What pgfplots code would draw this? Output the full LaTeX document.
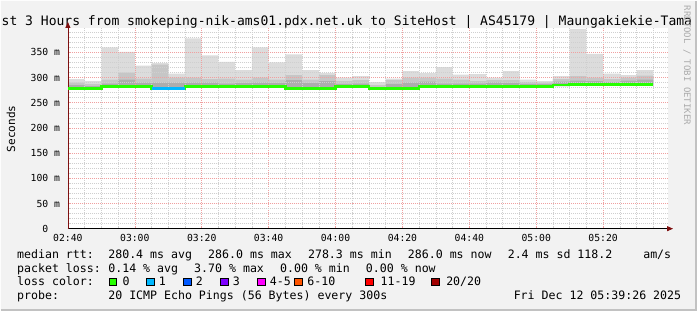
\documentclass[border=0pt]{standalone}
\usepackage{pgfplots}
\pgfplotsset{compat=1.18}
\usepackage{pgfplotstable}
\usepgfplotslibrary{fillbetween}
\usetikzlibrary{arrows.meta}
\usepackage{fontspec}
\setmainfont{DejaVu Sans Mono}
\definecolor{bgc}{HTML}{F2F2F2}
\definecolor{bordc}{HTML}{C2C2C2}
\definecolor{smokeA}{HTML}{DCDCDC}
\definecolor{smokeB}{HTML}{C6C6C6}
\definecolor{smokeC}{HTML}{ADADAD}
\definecolor{lossA}{HTML}{26FF00}
\definecolor{lossB}{HTML}{00B8FF}
\definecolor{lossC}{HTML}{0059FF}
\definecolor{lossD}{HTML}{7E00FF}
\definecolor{lossE}{HTML}{FF00FF}
\definecolor{lossF}{HTML}{FF5500}
\definecolor{lossG}{HTML}{FF0000}
\definecolor{lossH}{HTML}{A10000}
\definecolor{majgrid}{HTML}{F0A0A0}
\definecolor{mingrid}{HTML}{CFCFCF}
\definecolor{axred}{HTML}{7F1010}
\definecolor{wmark}{HTML}{ABABAB}

\pgfplotstableread{
t   med  lo   l3   l2   top
0   278  276  285  290  297
5   278  276  283  287  293
10  282  280  288  296  360
15  282  280  296  310  351
20  282  280  290  298  324
25  278  276  290  326  329
30  278  276  290  300  308
35  282  280  290  300  378
40  282  280  290  297  344
45  282  280  288  298  331
50  282  280  289  296  315
55  282  280  290  300  360
60  282  280  289  296  330
65  278  276  295  305  346
70  278  276  289  296  315
75  278  276  293  305  309
80  282  280  287  293  300
85  282  280  288  295  303
90  278  276  281  285  291
95  278  276  287  295  298
100 278  276  290  300  313
105 282  280  292  300  309
110 282  280  288  298  321
115 282  280  288  296  306
120 282  280  288  293  307
125 282  280  290  295  300
130 282  280  289  295  313
135 282  280  287  291  296
140 282  280  287  290  293
145 285  283  292  297  303
150 286  284  294  303  397
155 286  284  293  300  347
160 286  284  291  297  308
165 286  284  294  300  305
170 286  284  296  304  315
175 286  284  296  304  315
}\smoke

\begin{document}
\begin{tikzpicture}[x=1pt,y=1pt]
\fill[bgc, even odd rule] (0,0) rectangle (697,310) (67,82) rectangle (668,283);
\draw[bordc, line width=2pt] (0,1) -- (696,1) -- (696,310);

\begin{axis}[
  at={(67pt,82pt)}, anchor=south west,
  scale only axis, width=601pt, height=201pt,
  xmin=0, xmax=179.4, ymin=0, ymax=398.6,
  set layers, axis on top,
  axis background/.style={fill=white},
  axis x line=bottom, axis y line=left,
  every outer x axis line/.append style={black, line width=0.8pt, -{Triangle[length=6pt,width=5pt,color=axred]}, shorten >=-5pt},
  every outer y axis line/.append style={axred, line width=0.8pt, -{Triangle[length=6pt,width=5pt,color=axred]}, shorten >=-6pt},
  xtick={0,20,...,160},
  xticklabels={02:40,03:00,03:20,03:40,04:00,04:20,04:40,05:00,05:20},
  minor xtick={5,10,15,25,30,35,45,50,55,65,70,75,85,90,95,105,110,115,125,130,135,145,150,155,165,170,175},
  ytick={0,50,...,350},
  yticklabels={0\hphantom{~m},50 m,100 m,150 m,200 m,250 m,300 m,350 m},
  minor ytick={10,20,30,40,60,70,80,90,110,120,130,140,160,170,180,190,210,220,230,240,260,270,280,290,310,320,330,340,360,370,380,390},
  grid=both,
  major grid style={majgrid, dash pattern=on 1pt off 1pt, line width=0.6pt},
  minor grid style={mingrid, dash pattern=on 1pt off 1pt, line width=0.6pt},
  tick align=inside,
  major tick length=3pt, minor tick length=2pt,
  major tick style={majgrid, line width=0.6pt},
  minor tick style={mingrid, line width=0.6pt},
  xticklabel style={font=\fontsize{9.75pt}{12pt}\selectfont, anchor=base, inner sep=0pt, yshift=-13pt},
  yticklabel style={font=\fontsize{9.75pt}{12pt}\selectfont, anchor=east, inner sep=0pt, xshift=-7.7pt},
]
\addplot[draw=none, name path=lo, const plot mark left, forget plot] table[x=t, y=lo] {\smoke};
\addplot[draw=none, name path=lc, const plot mark left, forget plot] table[x=t, y=l3] {\smoke};
\addplot[draw=none, name path=lb, const plot mark left, forget plot] table[x=t, y=l2] {\smoke};
\addplot[draw=none, name path=la, const plot mark left, forget plot] table[x=t, y=top] {\smoke};
\addplot[smokeA, draw=none] fill between[of=lo and la];
\addplot[smokeB, draw=none] fill between[of=lo and lb];
\addplot[smokeC, draw=none] fill between[of=lo and lc];
\addplot[lossA, line width=2.6pt, const plot mark left, on layer=axis foreground] table[x=t, y=med] {\smoke};
\addplot[lossB, line width=2.6pt, on layer=axis foreground] coordinates {(25,278) (35,278)};
\end{axis}

% title
\node[anchor=base west, inner sep=0pt, font=\fontsize{13.05pt}{16pt}\selectfont] at (0.5,285.5)
  {st 3 Hours from smokeping-nik-ams01.pdx.net.uk to SiteHost | AS45179 | Maungakiekie-Tama};
% y label
\node[rotate=90, inner sep=0pt, font=\fontsize{11.1pt}{13pt}\selectfont] at (10,182) {Seconds};
% watermark
\node[rotate=-90, inner sep=0pt, text=wmark, font=\fontsize{9pt}{11pt}\selectfont] at (687,245.5) {RRDTOOL / TOBI OETIKER};

\begin{scope}[every node/.style={anchor=base west, inner sep=0pt, font=\fontsize{11.6pt}{14pt}\selectfont}]
\node at (16,52.4) {median rtt:};
\node at (107.3,52.4) {280.4 ms avg};
\node at (207.3,52.4) {286.0 ms max};
\node at (307.3,52.4) {278.3 ms min};
\node at (407.3,52.4) {286.0 ms now};
\node at (507.3,52.4) {2.4 ms sd};
\node at (577,52.4) {118.2};
\node at (643,52.4) {am/s};

\node at (16,38.5) {packet loss:};
\node at (107.3,38.5) {0.14 \% avg};
\node at (193.3,38.5) {3.70 \% max};
\node at (279.3,38.5) {0.00 \% min};
\node at (365.3,38.5) {0.00 \% now};

\node at (16,24.6) {loss color:};
\node at (121.7,24.6) {0};
\node at (158,24.6) {1};
\node at (195,24.6) {2};
\node at (232,24.6) {3};
\node at (269,24.6) {4-5};
\node at (306.7,24.6) {6-10};
\node at (380,24.6) {11-19};
\node at (445.7,24.6) {20/20};

\node at (16,10.7) {probe:};
\node at (107.3,10.7) {20 ICMP Echo Pings (56 Bytes) every 300s};
\node at (513.3,10.7) {Fri Dec 12 05:39:26 2025};
\end{scope}

\begin{scope}[line width=0.7pt]
\filldraw[fill=lossA, draw=black] (108.5,24.8) rectangle ++(7.5,7.5);
\filldraw[fill=lossB, draw=black] (145.8,24.8) rectangle ++(7.5,7.5);
\filldraw[fill=lossC, draw=black] (182.8,24.8) rectangle ++(7.5,7.5);
\filldraw[fill=lossD, draw=black] (220,24.8) rectangle ++(7.5,7.5);
\filldraw[fill=lossE, draw=black] (256.8,24.8) rectangle ++(7.5,7.5);
\filldraw[fill=lossF, draw=black] (294,24.8) rectangle ++(7.5,7.5);
\filldraw[fill=lossG, draw=black] (365,24.8) rectangle ++(7.5,7.5);
\filldraw[fill=lossH, draw=black] (431,24.8) rectangle ++(7.5,7.5);
\end{scope}
\end{tikzpicture}
\end{document}
